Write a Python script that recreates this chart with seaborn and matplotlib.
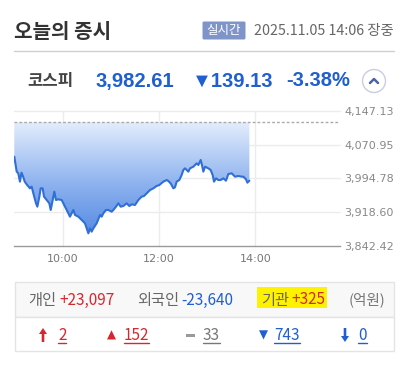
import numpy as np
import pandas as pd
import matplotlib
matplotlib.use("Agg")
import matplotlib.pyplot as plt
import seaborn as sns
from matplotlib.colors import LinearSegmentedColormap
from matplotlib.patches import PathPatch, FancyBboxPatch, Rectangle, Circle

# ---- data ----
minutes = [0, 3, 5, 7, 9, 11, 13, 16, 19.5, 21.6, 23.7, 27, 28.7, 31.2, 32.8, 35.3, 37,
           40.3, 43.6, 45.3, 47.8, 49.8, 51.9, 54.8, 59, 63.1, 67.3, 69.3, 71.4, 73.5,
           75.6, 79.7, 83.9, 88, 90.1, 92.2, 94.2, 96.3, 98.4, 102.5, 106.7, 108.8,
           110.8, 114.1, 117.1, 121.2, 123.3, 126.6, 129.5, 132.4, 135.7, 139.9, 143.2,
           146.1, 150.2, 154.4, 158.5, 161.4, 164.8, 168.9, 173.1, 177.2, 180.5, 185.5,
           189.7, 191.7, 194.6, 198, 200, 202.1, 205.4, 208.3, 210.4, 212.5, 214.6,
           216.6, 218.7, 222.9, 227, 229.1, 232, 233.6, 235.3, 237.4, 241.5, 244.4,
           246.9, 248.6, 251.1, 254, 256.9, 260.2, 263.5, 266.4, 270.6, 272.7, 274.7,
           278.9, 283, 285.1, 288.4, 290.1, 292.6]
index = [4043.8, 4009.9, 4006.1, 3987.3, 4007.6, 3998.6, 3987.3, 3979.7, 3972.2, 3976.0,
         3960.9, 3938.3, 3930.7, 3953.3, 3972.2, 3972.2, 3953.3, 3945.8, 3938.3, 3923.2,
         3945.8, 3964.6, 3945.8, 3947.3, 3945.8, 3930.7, 3915.6, 3908.1, 3915.6, 3923.2,
         3911.9, 3908.1, 3900.6, 3893.0, 3881.7, 3870.4, 3881.7, 3874.2, 3881.7, 3893.0,
         3911.9, 3908.1, 3915.6, 3923.2, 3923.2, 3919.4, 3923.2, 3930.7, 3938.3, 3930.7,
         3932.2, 3938.3, 3932.2, 3936.0, 3934.5, 3945.8, 3953.3, 3954.8, 3960.9, 3968.4,
         3972.2, 3977.5, 3979.7, 3987.3, 3991.0, 3988.8, 3983.5, 3972.2, 3974.5, 3987.3,
         3991.0, 4002.3, 4013.7, 4017.4, 4013.7, 4009.9, 4017.4, 4021.2, 4028.7, 4025.0,
         4036.3, 4025.0, 4009.9, 4021.2, 4017.4, 4013.7, 4002.3, 3987.3, 3994.8, 3991.0,
         3991.0, 3994.8, 3989.5, 4004.6, 4006.1, 4002.3, 3998.6, 4000.1, 3998.6, 3998.6,
         3992.5, 3985.0, 3989.5]
prev_close = 4121.74
y_ticks = [3842.42, 3918.60, 3994.78, 4070.95, 4147.13]
x_ticks = [60, 180, 300]
x_labels = ["10:00", "12:00", "14:00"]
x_end = 405.4

title = "오늘의 증시"
badge = "실시간"
stamp = "2025.11.05 14:06 장중"
idx_name = "코스피"
idx_value = "3,982.61"
idx_change = "▼139.13"
idx_pct = "-3.38%"
investors = ["개인", "외국인", "기관"]
inv_values = ["+23,097", "-23,640", "+325"]
unit = "(억원)"
breadth_icons = ["up", "▲", "flat", "▼", "down"]
breadth_counts = ["2", "152", "33", "743", "0"]

RED = "#d7262d"
BLUE = "#1f5fd0"
GRAY = "#666666"
KR = ["Noto Sans CJK KR", "DejaVu Sans"]
LAT = ["Liberation Sans", "DejaVu Sans"]

sns.set_style("white")
plt.rcParams["font.family"] = KR

df = pd.DataFrame({"t": minutes, "v": index})

fig = plt.figure(figsize=(4.15, 3.77), dpi=100)
fig.patch.set_facecolor("white")

# overlay axes in pixel coordinates for the text blocks
ov = fig.add_axes([0, 0, 1, 1])
ov.set_xlim(0, 415)
ov.set_ylim(377, 0)
ov.axis("off")

# ---- header ----
ov.text(14, 31, title, fontsize=14.5, fontweight="bold", color="#333333", va="center", ha="left")
ov.add_patch(FancyBboxPatch((202.5, 21.5), 43, 18, boxstyle="round,pad=0,rounding_size=1.5",
                            fc="#7f95c9", ec="none"))
ov.text(224, 30.5, badge, fontsize=9, color="white", ha="center", va="center")
ov.text(394, 30.5, stamp, fontsize=10.3, color=GRAY, ha="right", va="center")
ov.plot([14, 394], [50.5, 50.5], color="#cfcfcf", lw=1)

ov.text(27, 81, idx_name, fontsize=12, fontweight="bold", color="#444444", va="center")
ov.text(95, 81, idx_value, fontsize=14.5, fontweight="bold", color=BLUE, va="center", family=LAT)
ov.text(192, 81, idx_change, fontsize=14.5, fontweight="bold", color=BLUE, va="center", family=LAT)
ov.text(286, 81, idx_pct, fontsize=14.5, fontweight="bold", color=BLUE, va="center", family=LAT)
ov.add_patch(Circle((374, 81), 11.5, fc="white", ec="#c9cedf", lw=1))
ov.plot([370, 374, 378], [83, 79, 83], color="#4a64a8", lw=1.8, solid_capstyle="round")

# ---- investors box ----
ov.add_patch(Rectangle((14.5, 281.5), 379, 35, fc="#f8f8f8", ec="#e4e4e4", lw=1))
ov.add_patch(Rectangle((14.5, 316.5), 379, 34.5, fc="white", ec="#e4e4e4", lw=1))
ov.add_patch(Rectangle((257, 287), 70, 21, fc="#fff200", ec="none"))
name_x = [28, 137, 261]
val_x = [59, 181, 291]
val_col = [RED, BLUE, RED]
for nx, vx, n, v, c in zip(name_x, val_x, investors, inv_values, val_col):
    ov.text(nx, 300, n, fontsize=11, color=GRAY, va="center")
    ov.text(vx, 300, v, fontsize=11, color=c, va="center")
ov.text(385, 300, unit, fontsize=10.5, color="#777777", va="center", ha="right")

icon_x = [43, 111, 190, 263, 345]
cnt_x = [58, 124, 203, 274, 358]
b_col = [RED, RED, "#777777", BLUE, BLUE]
cnt_texts = []
for ix, cx, ic, cn, c in zip(icon_x, cnt_x, breadth_icons, breadth_counts, b_col):
    if ic == "up":
        ov.arrow(ix, 342, 0, -8, width=2.6, head_width=8, head_length=6, fc=c, ec="none",
                 length_includes_head=False)
    elif ic == "down":
        ov.arrow(ix, 328, 0, 8, width=2.6, head_width=8, head_length=6, fc=c, ec="none",
                 length_includes_head=False)
    elif ic == "flat":
        ov.add_patch(Rectangle((ix - 4.5, 333.5), 9, 3, fc="#999999", ec="none"))
    else:
        ov.text(ix, 335, ic, fontsize=8.5, color=c, va="center", ha="center",
                family=["DejaVu Sans"])
    cnt_texts.append((ov.text(cx, 335, cn, fontsize=11, color=c, va="center"), c))

# ---- chart ----
ax = fig.add_axes([14.3 / 415, 1 - 245.7 / 377, (340 - 14.3) / 415, (245.7 - 111) / 377])
ax.set_facecolor("none")
ymin, ymax = y_ticks[0], y_ticks[-1]

poly = ax.fill_between(df["t"], df["v"], prev_close, color="none", lw=0)
cmap = LinearSegmentedColormap.from_list("fillgrad", ["#4a82e0", "#8db2ef", "#e3edfc"])
grad = np.linspace(0, 1, 256).reshape(-1, 1)
im = ax.imshow(grad, extent=[df["t"].min(), df["t"].max(), ymin, prev_close], origin="lower",
               cmap=cmap, aspect="auto", zorder=1)
clip = PathPatch(poly.get_paths()[0], transform=ax.transData, fc="none", ec="none")
ax.add_patch(clip)
im.set_clip_path(clip)

sns.lineplot(data=df, x="t", y="v", ax=ax, color="#2f6fd6", lw=1.5, zorder=3)
ax.axhline(prev_close, color="#aaaaaa", lw=1, ls=(0, (2, 1.5)), zorder=2)

ax.set_xlim(0, x_end)
ax.set_ylim(ymin, ymax)
ax.set_xticks(x_ticks)
ax.set_xticklabels(x_labels)
ax.set_yticks(y_ticks)
ax.set_yticklabels([f"{y:,.2f}" for y in y_ticks])
ax.yaxis.tick_right()
ax.tick_params(axis="y", length=0, pad=3, labelsize=8, labelcolor="#888888")
ax.tick_params(axis="x", length=3, width=0.8, color="#bbbbbb", pad=3, labelsize=8, labelcolor="#777777")
for lab in ax.get_xticklabels() + ax.get_yticklabels():
    lab.set_family("DejaVu Sans")
for yv in y_ticks[1:]:
    ax.axhline(yv, color="#ececec", lw=1, zorder=0, clip_on=False)
for xv in x_ticks:
    ax.axvline(xv, color="#ececec", lw=1, zorder=0)
for s in ["top", "left", "right"]:
    ax.spines[s].set_visible(False)
ax.spines["bottom"].set_color("#9a9a9a")
ax.spines["bottom"].set_linewidth(1)
ax.set_xlabel("")
ax.set_ylabel("")

# underline the breadth counts
fig.canvas.draw()
r = fig.canvas.get_renderer()
inv = ov.transData.inverted()
for t, c in cnt_texts:
    bb = t.get_window_extent(r)
    (x0, _), (x1, _) = inv.transform([(bb.x0, bb.y0), (bb.x1, bb.y0)])
    ov.plot([x0, x1], [343, 343], color=c, lw=1)

fig.savefig("out.png", dpi=100, facecolor="white")
